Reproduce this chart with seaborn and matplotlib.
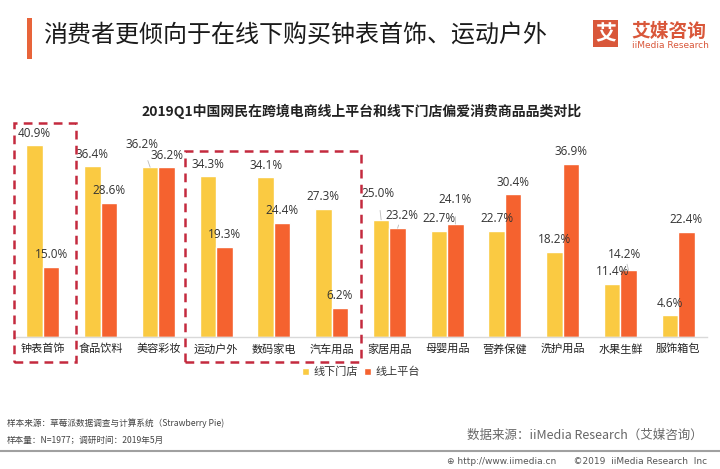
import matplotlib
matplotlib.use("Agg")
import matplotlib.pyplot as plt
from matplotlib.patches import Rectangle
import seaborn as sns
import pandas as pd

categories = ["钟表首饰", "食品饮料", "美容彩妆", "运动户外", "数码家电", "汽车用品",
              "家居用品", "母婴用品", "营养保健", "洗护用品", "水果生鲜", "服饰箱包"]
offline_store = [40.9, 36.4, 36.2, 34.3, 34.1, 27.3, 25.0, 22.7, 22.7, 18.2, 11.4, 4.6]
online_platform = [15.0, 28.6, 36.2, 19.3, 24.4, 6.2, 23.2, 24.1, 30.4, 36.9, 14.2, 22.4]
series_names = ["线下门店", "线上平台"]

header = "消费者更倾向于在线下购买钟表首饰、运动户外"
chart_title = "2019Q1中国网民在跨境电商线上平台和线下门店偏爱消费商品品类对比"

YELLOW = "#FACA42"
ORANGE = "#F5622F"
BOX_RED = "#C42A3E"

df = pd.DataFrame({
    "category": categories * 2,
    "value": offline_store + online_platform,
    "channel": [series_names[0]] * len(categories) + [series_names[1]] * len(categories),
})

sns.set_theme(style="white")
plt.rcParams["font.family"] = ["Noto Sans CJK SC", "DejaVu Sans"]

W, H = 720, 469
fig = plt.figure(figsize=(7.2, 4.69), dpi=100)
fig.patch.set_facecolor("white")


def fy(y):
    return 1 - y / H


ax = fig.add_axes([14 / W, (H - 337) / H, 693 / W, 211 / H])
sns.barplot(data=df, x="category", y="value", hue="channel", order=categories,
            hue_order=series_names, palette=[YELLOW, ORANGE], saturation=1,
            width=0.57, dodge=True, ax=ax)
ax.set_ylim(0, 45)
ax.set_xlim(-0.5, len(categories) - 0.5)
ax.set_xlabel("")
ax.set_ylabel("")
ax.set_yticks([])
for s in ["top", "right", "left"]:
    ax.spines[s].set_visible(False)
ax.spines["bottom"].set_color("#D9D9D9")
ax.spines["bottom"].set_linewidth(1.0)
ax.tick_params(axis="x", length=0, pad=5, labelsize=8, labelcolor="#222222")

# value labels (offsets in pixels; special ones have leader lines)
px = 72 / 100.0
special = {
    (0, 2): (-8, 23),
    (0, 6): (-3, 26),
    (1, 6): (4, 13),
    (1, 7): (0, 24),
    (1, 10): (-4, 16),
}
for hi, cont in enumerate(ax.containers):
    for ci, bar in enumerate(cont):
        val = bar.get_height()
        xc = bar.get_x() + bar.get_width() / 2
        dx, dy = special.get((hi, ci), (0, 12))
        kw = {}
        if (hi, ci) in special:
            kw["arrowprops"] = dict(arrowstyle="-", color="#BBBBBB", lw=0.6,
                                    shrinkA=5, shrinkB=0)
        ax.annotate(f"{val:.1f}%", xy=(xc, val), xytext=(dx * px, dy * px),
                    textcoords="offset points", ha="center", va="center",
                    fontsize=8.5, color="#333333", family=["Open Sans", "DejaVu Sans"],
                    annotation_clip=False, **kw)

# legend
sns.move_legend(ax, "center", bbox_to_anchor=(0.5, -0.17),
                ncol=2, title=None, frameon=False, fontsize=8, handlelength=0.6,
                handleheight=0.6, handletextpad=0.4, columnspacing=0.6)
leg = ax.get_legend()
leg.set_bbox_to_anchor((361 / W, fy(372)), transform=fig.transFigure)
for t in leg.get_texts():
    t.set_color("#333333")

# dashed highlight boxes (data coordinates)
for x0, x1, ytop in [(-0.5, 0.57, 45.6), (2.46, 5.51, 39.7)]:
    ax.add_patch(Rectangle((x0, -5.3), x1 - x0, ytop + 5.3, fill=False,
                           edgecolor=BOX_RED, lw=1.8, linestyle=(0, (3.5, 2.5)),
                           clip_on=False, zorder=5))

# chart title
fig.text(362 / W, fy(111), chart_title, ha="center", va="center", fontsize=10,
         fontweight="bold", color="#222222")

# header
fig.patches.append(Rectangle((27 / W, fy(59)), 5 / W, 41 / H, transform=fig.transFigure,
                             facecolor="#E8643A", edgecolor="none"))
fig.text(43 / W, fy(36), header, ha="left", va="center", fontsize=17.3, color="#1A1A1A")

# logo
fig.patches.append(Rectangle((593 / W, fy(47)), 25 / W, 27 / H, transform=fig.transFigure,
                             facecolor="#D9573A", edgecolor="none"))
fig.text(605.5 / W, fy(33.5), "艾", ha="center", va="center", fontsize=15,
         fontweight="bold", color="white")
fig.text(631 / W, fy(31), "艾媒咨询", ha="left", va="center", fontsize=13.5,
         fontweight="bold", color="#D9573A")
fig.text(632 / W, fy(45), "iiMedia Research", ha="left", va="center", fontsize=6.5,
         color="#D9573A", family=["Liberation Sans Narrow", "DejaVu Sans"])

# footer
fig.text(7 / W, fy(423), "样本来源：草莓派数据调查与计算系统（Strawberry Pie)", ha="left",
         va="center", fontsize=6.2, color="#444444")
fig.text(7 / W, fy(440), "样本量：N=1977；调研时间：2019年5月", ha="left",
         va="center", fontsize=6.2, color="#444444")
fig.text(703 / W, fy(435), "数据来源：iiMedia Research（艾媒咨询）", ha="right",
         va="center", fontsize=9, color="#666666")
fig.add_artist(plt.Line2D([0, 1], [fy(451), fy(451)], transform=fig.transFigure,
                          color="#A0A0A0", lw=1.5))
fig.text(707 / W, fy(461), "⊕ http://www.iimedia.cn      ©2019  iiMedia Research  Inc",
         ha="right", va="center", fontsize=6.5, color="#555555",
         family=["DejaVu Sans"])

fig.savefig("out.png", dpi=100, facecolor="white")
